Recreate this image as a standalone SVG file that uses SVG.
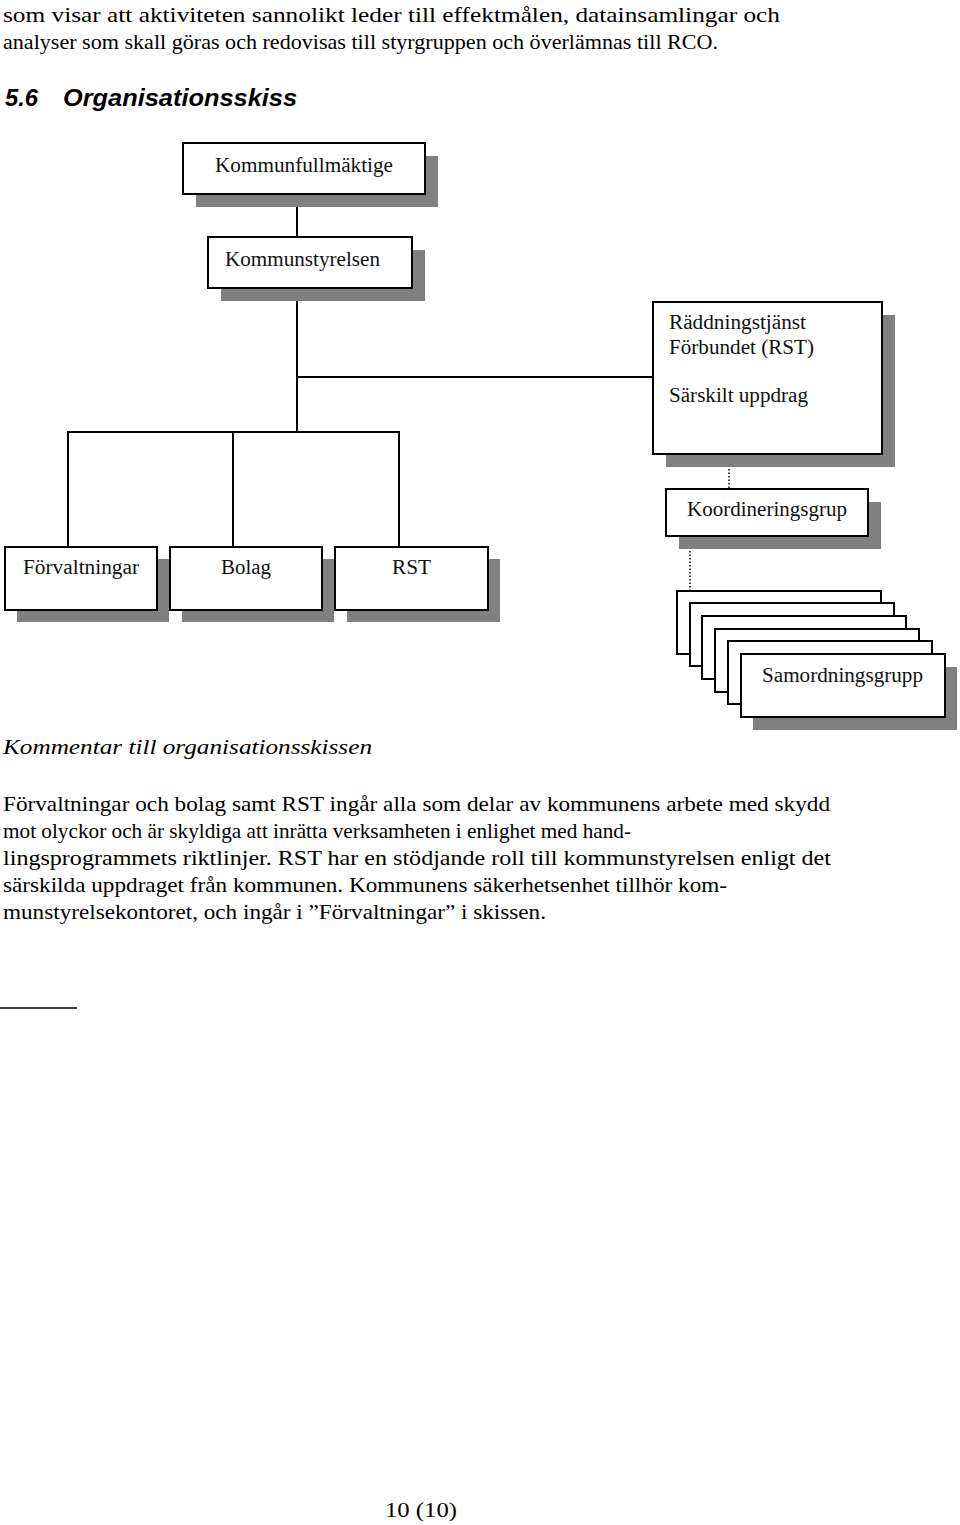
<svg xmlns="http://www.w3.org/2000/svg" width="960" height="1525" viewBox="0 0 960 1525">
<style>
.bg{fill:#ffffff}
.txt{fill:#000}
.body{font-size:22px}
.lbl{font-size:20px;fill:#111}
.box{fill:#ffffff;stroke:#000;stroke-width:2}
.sh{fill:#808080}
.con{stroke:#000;stroke-width:2;fill:none}
.dot{stroke:#000;stroke-width:1.5;stroke-dasharray:1.5 2;fill:none}
.head{font-weight:bold;font-style:italic;font-size:23px}
</style>
<rect class="bg" x="0" y="0" width="960" height="1525"/>

<g font-family="Liberation Serif, Times New Roman, Times, serif">
<g id="intro" class="txt body">
<text x="3" y="22" textLength="777" lengthAdjust="spacingAndGlyphs">som visar att aktiviteten sannolikt leder till effektmålen, datainsamlingar och</text>
<text x="3" y="49" textLength="715" lengthAdjust="spacingAndGlyphs">analyser som skall göras och redovisas till styrgruppen och överlämnas till RCO.</text>
</g>
<g id="heading" class="head" font-family="Liberation Sans, Arial, sans-serif">
<text x="5" y="106" textLength="33" lengthAdjust="spacingAndGlyphs">5.6</text>
<text x="63" y="106" textLength="234" lengthAdjust="spacingAndGlyphs">Organisationsskiss</text>
</g>

<g id="connectors">
<line class="con" x1="297" y1="194" x2="297" y2="237"/>
<line class="con" x1="297" y1="288" x2="297" y2="432"/>
<line class="con" x1="297" y1="377" x2="653" y2="377"/>
<line class="con" x1="67" y1="432" x2="400" y2="432"/>
<line class="con" x1="68" y1="432" x2="68" y2="547"/>
<line class="con" x1="233" y1="432" x2="233" y2="547"/>
<line class="con" x1="399" y1="432" x2="399" y2="547"/>
<line class="dot" x1="729" y1="455" x2="729" y2="489"/>
<line class="dot" x1="690" y1="537" x2="690" y2="591"/>
</g>

<g id="kommunfullmaktige">
<rect class="sh" x="196" y="156" width="242" height="51"/>
<rect class="box" x="183" y="143" width="242" height="51"/>
<text class="txt lbl" x="215" y="172" textLength="178" lengthAdjust="spacingAndGlyphs">Kommunfullmäktige</text>
</g>

<g id="kommunstyrelsen">
<rect class="sh" x="221" y="250" width="204" height="51"/>
<rect class="box" x="208" y="237" width="204" height="51"/>
<text class="txt lbl" x="225" y="266" textLength="155" lengthAdjust="spacingAndGlyphs">Kommunstyrelsen</text>
</g>

<g id="raddningstjanst">
<rect class="sh" x="666" y="315" width="229" height="152"/>
<rect class="box" x="653" y="302" width="229" height="152"/>
<text class="txt lbl" x="669" y="329" textLength="137" lengthAdjust="spacingAndGlyphs">Räddningstjänst</text>
<text class="txt lbl" x="669" y="354" textLength="145" lengthAdjust="spacingAndGlyphs">Förbundet (RST)</text>
<text class="txt lbl" x="669" y="402" textLength="139" lengthAdjust="spacingAndGlyphs">Särskilt uppdrag</text>
</g>

<g id="koordineringsgrup">
<rect class="sh" x="679" y="502" width="202" height="47"/>
<rect class="box" x="666" y="489" width="202" height="47"/>
<text class="txt lbl" x="687" y="516" textLength="160" lengthAdjust="spacingAndGlyphs">Koordineringsgrup</text>
</g>

<g id="forvaltningar">
<rect class="sh" x="17" y="559" width="152" height="63"/>
<rect class="box" x="5" y="547" width="152" height="63"/>
<text class="txt lbl" x="23" y="574" textLength="116" lengthAdjust="spacingAndGlyphs">Förvaltningar</text>
</g>

<g id="bolag">
<rect class="sh" x="182" y="559" width="152" height="63"/>
<rect class="box" x="170" y="547" width="152" height="63"/>
<text class="txt lbl" x="221" y="574" textLength="50" lengthAdjust="spacingAndGlyphs">Bolag</text>
</g>

<g id="rst">
<rect class="sh" x="347" y="559" width="153" height="63"/>
<rect class="box" x="335" y="547" width="153" height="63"/>
<text class="txt lbl" x="392" y="574" textLength="39" lengthAdjust="spacingAndGlyphs">RST</text>
</g>

<g id="samordningsgrupp">
<rect class="box" x="677" y="591" width="204" height="63"/>
<rect class="box" x="690" y="603" width="204" height="63"/>
<rect class="box" x="702" y="616" width="204" height="63"/>
<rect class="box" x="715" y="629" width="204" height="63"/>
<rect class="box" x="728" y="641" width="204" height="63"/>
<rect class="sh" x="753" y="667" width="204" height="63"/>
<rect class="box" x="741" y="654" width="204" height="63"/>
<text class="txt lbl" x="762" y="682" textLength="161" lengthAdjust="spacingAndGlyphs">Samordningsgrupp</text>
</g>

<g id="comment" class="txt body">
<text x="3" y="754" font-style="italic" textLength="369" lengthAdjust="spacingAndGlyphs">Kommentar till organisationsskissen</text>
<text x="3" y="811" textLength="827" lengthAdjust="spacingAndGlyphs">Förvaltningar och bolag samt RST ingår alla som delar av kommunens arbete med skydd</text>
<text x="3" y="838" textLength="628" lengthAdjust="spacingAndGlyphs">mot olyckor och är skyldiga att inrätta verksamheten i enlighet med hand-</text>
<text x="3" y="865" textLength="828" lengthAdjust="spacingAndGlyphs">lingsprogrammets riktlinjer. RST har en stödjande roll till kommunstyrelsen enligt det</text>
<text x="3" y="892" textLength="724" lengthAdjust="spacingAndGlyphs">särskilda uppdraget från kommunen. Kommunens säkerhetsenhet tillhör kom-</text>
<text x="3" y="919" textLength="543" lengthAdjust="spacingAndGlyphs">munstyrelsekontoret, och ingår i ”Förvaltningar” i skissen.</text>
</g>

<g id="footnote-rule">
<line x1="0" y1="1008" x2="77" y2="1008" stroke="#000" stroke-width="1.5"/>
</g>

<g id="page-number" class="txt body">
<text x="385" y="1517" textLength="72" lengthAdjust="spacingAndGlyphs">10 (10)</text>
</g>
</g>
</svg>
